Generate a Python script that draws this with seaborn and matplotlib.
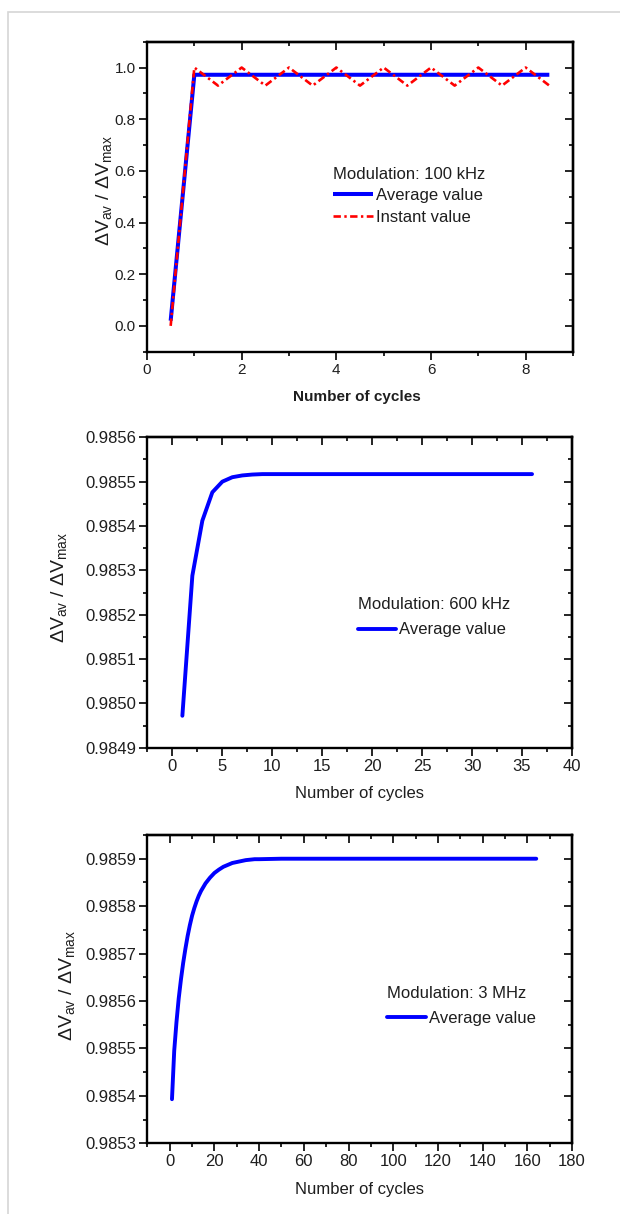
import matplotlib
matplotlib.use("Agg")
import matplotlib.pyplot as plt
import numpy as np
import pandas as pd
import seaborn as sns
from matplotlib.ticker import FixedLocator, FormatStrFormatter, NullFormatter
from matplotlib.patches import Rectangle

# ---------------- data ----------------
# 100 kHz modulation: half-cycle samples
cycles_100k = [0.5, 1.0, 1.5, 2.0, 2.5, 3.0, 3.5, 4.0, 4.5,
               5.0, 5.5, 6.0, 6.5, 7.0, 7.5, 8.0, 8.5]
average_100k = [0.02, 0.972, 0.972, 0.972, 0.972, 0.972, 0.972, 0.972, 0.972,
                0.972, 0.972, 0.972, 0.972, 0.972, 0.972, 0.972, 0.972]
instant_100k = [0.0, 1.0, 0.93, 1.0, 0.93, 1.0, 0.93, 1.0, 0.93,
                1.0, 0.93, 1.0, 0.93, 1.0, 0.93, 1.0, 0.93]

# 600 kHz modulation
cycles_600k = [1, 2, 3, 4, 5, 6, 7, 8, 9, 10, 11, 12, 13, 14, 15, 16, 17, 18,
               19, 20, 21, 22, 23, 24, 25, 26, 27, 28, 29, 30, 31, 32, 33, 34, 35, 36]
average_600k = [0.984972, 0.985288, 0.985412, 0.985476, 0.985500, 0.985510,
                0.985514, 0.985516, 0.985517, 0.985517, 0.985517, 0.985517,
                0.985517, 0.985517, 0.985517, 0.985517, 0.985517, 0.985517,
                0.985517, 0.985517, 0.985517, 0.985517, 0.985517, 0.985517,
                0.985517, 0.985517, 0.985517, 0.985517, 0.985517, 0.985517,
                0.985517, 0.985517, 0.985517, 0.985517, 0.985517, 0.985517]

# 3 MHz modulation
cycles_3M = [1, 2, 3, 4, 5, 6, 7, 8, 9, 10, 11, 12, 13, 14, 16, 18, 20, 22,
             24, 26, 28, 30, 32, 34, 36, 38, 40, 50, 60, 80, 100, 120, 140, 164]
average_3M = [0.985393, 0.985495, 0.985555, 0.985605, 0.985645, 0.985680,
              0.985710, 0.985737, 0.985760, 0.985780, 0.985796, 0.985810,
              0.985822, 0.985832, 0.985848, 0.985860, 0.985870, 0.985877,
              0.985883, 0.985887, 0.985891, 0.985893, 0.985895, 0.985897,
              0.985898, 0.985899, 0.985899, 0.985900, 0.985900, 0.985900,
              0.985900, 0.985900, 0.985900, 0.985900]

# axis ticks
xticks_100k = [0, 2, 4, 6, 8]
yticks_100k = [0.0, 0.2, 0.4, 0.6, 0.8, 1.0]
xticks_600k = [0, 5, 10, 15, 20, 25, 30, 35, 40]
yticks_600k = [0.9849, 0.9850, 0.9851, 0.9852, 0.9853, 0.9854, 0.9855, 0.9856]
xticks_3M = [0, 20, 40, 60, 80, 100, 120, 140, 160, 180]
yticks_3M = [0.9853, 0.9854, 0.9855, 0.9856, 0.9857, 0.9858, 0.9859]

# ---------------- style ----------------
sns.set_theme(style="ticks")
plt.rcParams["font.family"] = ["Liberation Sans", "DejaVu Sans"]
plt.rcParams["mathtext.fontset"] = "custom"
plt.rcParams["mathtext.rm"] = "Liberation Sans"
plt.rcParams["mathtext.it"] = "Liberation Sans"
plt.rcParams["text.color"] = "#1e1e1e"
plt.rcParams["axes.labelcolor"] = "#1e1e1e"

W, H = 620, 1214
fig = plt.figure(figsize=(W / 100, H / 100), dpi=100)
fig.patch.set_facecolor("white")

# light page frame
fig.add_artist(Rectangle((8 / W, -0.05), 1.2, 1 - 11.7 / H + 0.05,
                         transform=fig.transFigure, fill=False,
                         edgecolor="#d6d6d6", lw=1.2))


def make_axes(left, top, right, bottom):
    return fig.add_axes([left / W, 1 - bottom / H, (right - left) / W, (bottom - top) / H])


def mids(ticks, lo, hi):
    t = np.asarray(ticks, dtype=float)
    step = t[1] - t[0]
    m = np.concatenate([[t[0] - step / 2], (t[:-1] + t[1:]) / 2, [t[-1] + step / 2]])
    return [v for v in m if lo - 1e-12 <= v <= hi + 1e-12]


def style_axes(ax, xt, yt, xlim, ylim, fs, yfmt):
    ax.set_xlim(*xlim)
    ax.set_ylim(*ylim)
    ax.set_facecolor("white")
    for s in ax.spines.values():
        s.set_linewidth(1.7)
        s.set_color("black")
    ax.xaxis.set_major_locator(FixedLocator(xt))
    ax.xaxis.set_minor_locator(FixedLocator(mids(xt, *xlim)))
    ax.yaxis.set_major_locator(FixedLocator(yt))
    ax.yaxis.set_minor_locator(FixedLocator(mids(yt, *ylim)))
    ax.yaxis.set_major_formatter(FormatStrFormatter(yfmt))
    ax.tick_params(which="both", direction="out", top=False, right=False,
                   width=1.2, color="black", labelsize=fs, labelcolor="#1e1e1e")
    ax.tick_params(which="major", length=5.5, pad=2.5)
    ax.tick_params(which="minor", length=3)
    # mirrored inward ticks on top and right
    secx = ax.secondary_xaxis("top")
    secx.xaxis.set_major_locator(FixedLocator(xt))
    secx.xaxis.set_minor_locator(FixedLocator(mids(xt, *xlim)))
    secx.xaxis.set_major_formatter(NullFormatter())
    secx.tick_params(which="both", direction="in", width=1.2, color="black")
    secx.tick_params(which="major", length=5.5)
    secx.tick_params(which="minor", length=3)
    secx.spines["top"].set_linewidth(1.7)
    secy = ax.secondary_yaxis("right")
    secy.yaxis.set_major_locator(FixedLocator(yt))
    secy.yaxis.set_minor_locator(FixedLocator(mids(yt, *ylim)))
    secy.yaxis.set_major_formatter(NullFormatter())
    secy.tick_params(which="both", direction="in", width=1.2, color="black")
    secy.tick_params(which="major", length=5.5)
    secy.tick_params(which="minor", length=3)
    secy.spines["right"].set_linewidth(1.7)


ylabel_text = r"$\Delta$V$_{\rm av}$ / $\Delta$V$_{\rm max}$"
ylabel_size = 14
blue = "#0000ff"
red = "#ff0000"
legend_kw = dict(loc="upper left", frameon=False, fontsize=12, title_fontsize=12,
                 handletextpad=0.2, borderpad=0, borderaxespad=0, alignment="left")

# ---------------- panel 1: 100 kHz ----------------
ax1 = make_axes(147, 41.7, 573, 351.7)
df1 = pd.DataFrame({"cycles": cycles_100k, "average": average_100k, "instant": instant_100k})
sns.lineplot(data=df1, x="cycles", y="average", ax=ax1, color=blue, lw=2.9,
             label="Average value", solid_capstyle="butt")
sns.lineplot(data=df1, x="cycles", y="instant", ax=ax1, color=red, lw=1.9,
             linestyle=(0, (2.8, 1.3, 0.9, 1.3)), label="Instant value")
style_axes(ax1, xticks_100k, yticks_100k, (0, 9), (-0.1, 1.1), 11, "%.1f")
ax1.set_xlabel("Number of cycles", fontsize=11, fontweight="bold")
ax1.xaxis.label.set_va("center")
ax1.xaxis.set_label_coords(0.493, -0.145)
ax1.set_ylabel(ylabel_text, fontsize=ylabel_size)
ax1.yaxis.label.set_va("center")
ax1.yaxis.set_label_coords(-0.10, 0.519)
ax1.legend(title="Modulation: 100 kHz", bbox_to_anchor=(0.436, 0.597),
           handlelength=2.4, labelspacing=0.4, **legend_kw)

# ---------------- panel 2: 600 kHz ----------------
ax2 = make_axes(147.4, 437.3, 572, 747.7)
df2 = pd.DataFrame({"cycles": cycles_600k, "average": average_600k})
sns.lineplot(data=df2, x="cycles", y="average", ax=ax2, color=blue, lw=2.8,
             label="Average value")
style_axes(ax2, xticks_600k, yticks_600k, (-2.5, 40), (0.9849, 0.9856), 12, "%.4f")
ax2.set_xlabel("Number of cycles", fontsize=12)
ax2.xaxis.label.set_va("center")
ax2.xaxis.set_label_coords(0.5007, -0.147)
ax2.set_ylabel(ylabel_text, fontsize=ylabel_size)
ax2.yaxis.label.set_va("center")
ax2.yaxis.set_label_coords(-0.208, 0.516)
ax2.legend(title="Modulation: 600 kHz", bbox_to_anchor=(0.495, 0.487),
           handlelength=2.3, labelspacing=0.65, **legend_kw)

# ---------------- panel 3: 3 MHz ----------------
ax3 = make_axes(147.4, 835, 572, 1143.3)
df3 = pd.DataFrame({"cycles": cycles_3M, "average": average_3M})
sns.lineplot(data=df3, x="cycles", y="average", ax=ax3, color=blue, lw=2.8,
             label="Average value")
style_axes(ax3, xticks_3M, yticks_3M, (-10, 180), (0.9853, 0.98595), 12, "%.4f")
ax3.set_xlabel("Number of cycles", fontsize=12)
ax3.xaxis.label.set_va("center")
ax3.xaxis.set_label_coords(0.5007, -0.151)
ax3.set_ylabel(ylabel_text, fontsize=ylabel_size)
ax3.yaxis.label.set_va("center")
ax3.yaxis.set_label_coords(-0.190, 0.513)
ax3.legend(title="Modulation: 3 MHz", bbox_to_anchor=(0.564, 0.511),
           handlelength=2.35, labelspacing=0.6, **legend_kw)

fig.savefig("out.png", dpi=100, facecolor="white")
